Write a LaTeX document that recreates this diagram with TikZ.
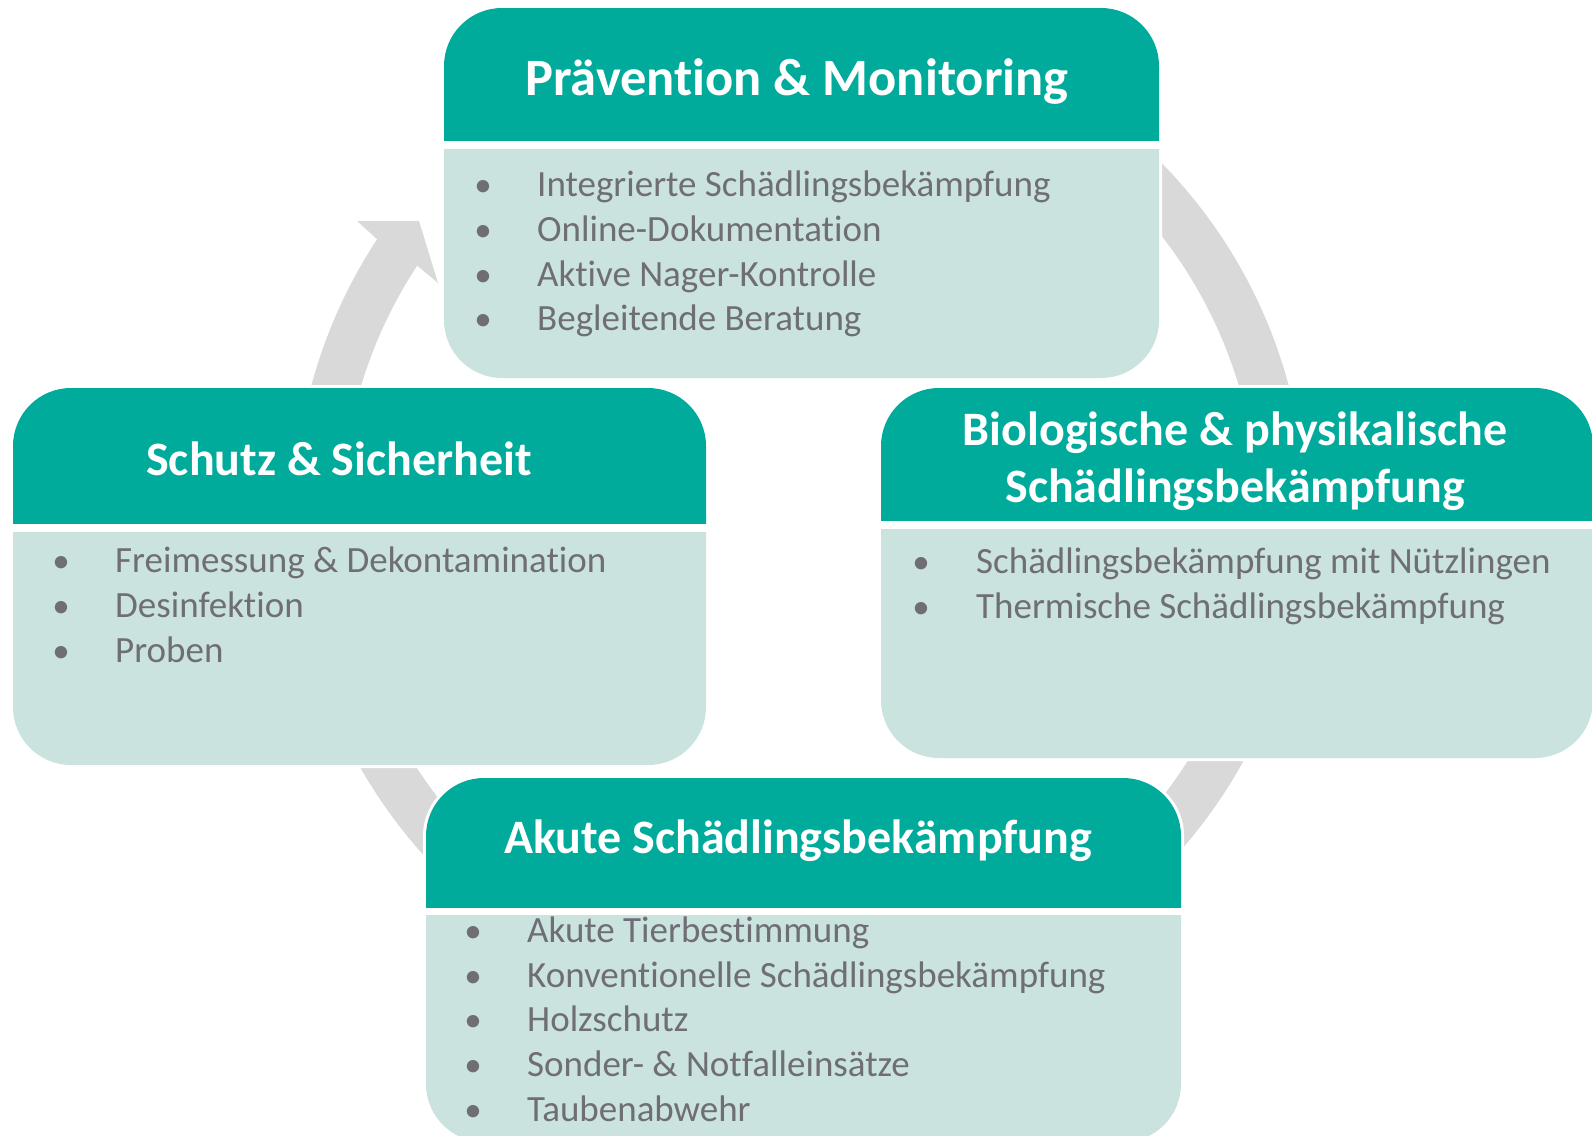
\documentclass[tikz,border=0pt]{standalone}
\usepackage{fontspec}
\setmainfont[Ligatures={NoCommon}]{Carlito}
\usetikzlibrary{calc}
\definecolor{hdrteal}{RGB}{0,171,155}
\definecolor{bodylight}{RGB}{203,227,223}
\definecolor{txtgray}{RGB}{110,110,116}
\definecolor{ringgray}{RGB}{217,217,217}
\newcommand\drawpanel[6]{%
  \fill[white,rounded corners=61] (#1-3,#3-3) rectangle (#2+3,#6+3);
  \begin{scope}
    \clip (#1-5,#3-5) rectangle (#2+5,#4);
    \fill[hdrteal,rounded corners=58] (#1,#3) rectangle (#2,#4+100);
  \end{scope}
  \begin{scope}
    \clip (#1-5,#5) rectangle (#2+5,#6+5);
    \fill[bodylight,rounded corners=58] (#1,#5-100) rectangle (#2,#6);
  \end{scope}}
\begin{document}
\begin{tikzpicture}[x=1pt,y=-1pt,
  htext/.style={text=white,font=\fontsize{48}{56}\selectfont\bfseries,inner sep=0pt,anchor=base},
  htextbig/.style={htext,font=\fontsize{52.5}{60}\selectfont\bfseries},
  itext/.style={text=txtgray,font=\fontsize{37}{45}\selectfont,inner sep=0pt,anchor=base west},
  bul/.style={text=txtgray,font=\fontsize{35}{45}\selectfont,inner sep=0pt,anchor=base}]
\useasboundingbox (0,0) rectangle (1592,1135);
\clip (0,0) rectangle (1592,1135);
\coordinate (C) at (800,517);
% gray circular arrow
\fill[ringgray] ($(C)+(314:506)$) arc[start angle=314,end angle=573.3,radius=506]
  -- (357,221) -- (419,221) -- (438,283)
  -- ($(C)+(213.3:458)$) arc[start angle=573.3,end angle=314,radius=458] -- cycle;
% panels
\drawpanel{444}{1159}{8}{140}{149}{378}
\drawpanel{13}{706}{388}{523}{532}{765}
\drawpanel{881}{1593}{388}{520}{529}{758}
\drawpanel{426}{1181}{778}{907}{915}{1142}
% headers
\node[htextbig] (h1) at (797,95) {Prävention \& Monitoring};
\node[htext] (h2) at (339,475) {Schutz \& Sicherheit};
\node[htext] (h3a) at (1235,445) {Biologische \& physikalische};
\node[htext] (h3b) at (1235,502) {Schädlingsbekämpfung};
\node[htext] (h4) at (798,853) {Akute Schädlingsbekämpfung};
% top items
\node[bul] (b11) at (483,196) {•};
\node[itext] (t11) at (537,196) {Integrierte Schädlingsbekämpfung};
\node[bul] (b12) at (483,241) {•};
\node[itext] (t12) at (537,241) {Online-Dokumentation};
\node[bul] (b13) at (483,286) {•};
\node[itext] (t13) at (537,286) {Aktive Nager-Kontrolle};
\node[bul] (b14) at (483,330.5) {•};
\node[itext] (t14) at (537,330.5) {Begleitende Beratung};
% left items
\node[bul] (b21) at (61,572) {•};
\node[itext] (t21) at (115,572) {Freimessung \& Dekontamination};
\node[bul] (b22) at (61,617) {•};
\node[itext] (t22) at (115,617) {Desinfektion};
\node[bul] (b23) at (61,662) {•};
\node[itext] (t23) at (115,662) {Proben};
% right items
\node[bul] (b31) at (921,573) {•};
\node[itext] (t31) at (976,573) {Schädlingsbekämpfung mit Nützlingen};
\node[bul] (b32) at (921,618) {•};
\node[itext] (t32) at (976,618) {Thermische Schädlingsbekämpfung};
% bottom items
\node[bul] (b41) at (473,942.5) {•};
\node[itext] (t41) at (527,942.5) {Akute Tierbestimmung};
\node[bul] (b42) at (473,987) {•};
\node[itext] (t42) at (527,987) {Konventionelle Schädlingsbekämpfung};
\node[bul] (b43) at (473,1031.5) {•};
\node[itext] (t43) at (527,1031.5) {Holzschutz};
\node[bul] (b44) at (473,1076.5) {•};
\node[itext] (t44) at (527,1076.5) {Sonder- \& Notfalleinsätze};
\node[bul] (b45) at (473,1121) {•};
\node[itext] (t45) at (527,1121) {Taubenabwehr};
\end{tikzpicture}
\end{document}
